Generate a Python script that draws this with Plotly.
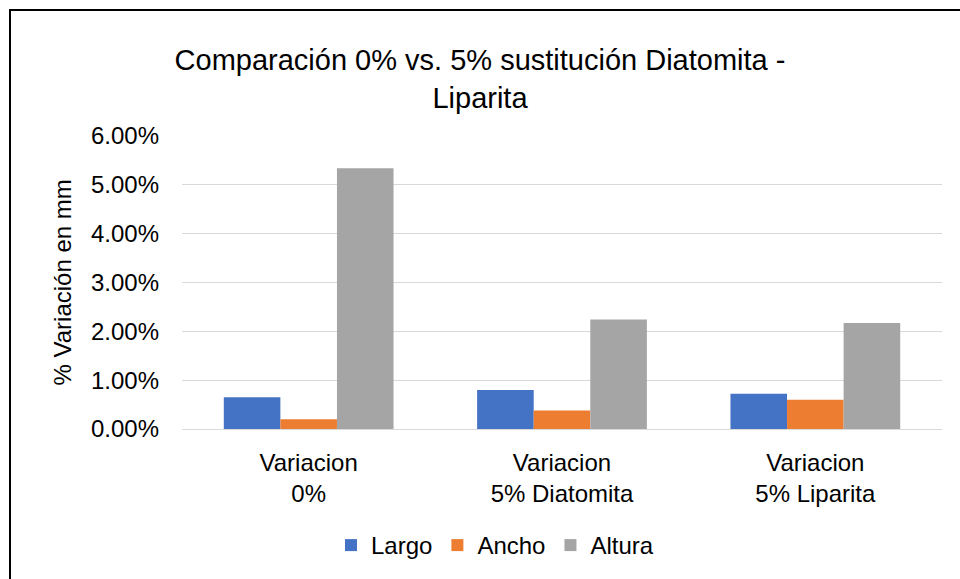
import plotly.graph_objects as go

categories = ["Variacion<br>0%", "Variacion<br>5% Diatomita", "Variacion<br>5% Liparita"]
largo = [0.0065, 0.0080, 0.0072]
ancho = [0.0020, 0.0038, 0.0060]
altura = [0.0534, 0.0224, 0.0217]

series = [("Largo", largo, "#4472C4"), ("Ancho", ancho, "#ED7D31"), ("Altura", altura, "#A5A5A5")]

fig = go.Figure()
for name, vals, color in series:
    fig.add_trace(go.Bar(x=categories, y=vals, name=name, marker_color=color, marker_line_width=0))

W, H = 960, 579
L, R, T, B = 182, 18, 136, 150
pw, ph = W - L - R, H - T - B

fig.update_layout(
    width=W, height=H,
    margin=dict(l=L, r=R, t=T, b=B, autoexpand=False),
    paper_bgcolor="white", plot_bgcolor="white",
    font=dict(family="Liberation Sans, Arial", size=24, color="#000000"),
    title=dict(text="Comparación 0% vs. 5% sustitución Diatomita -<br>Liparita",
               x=0.5, xanchor="center", y=1 - 70 / H, yanchor="top",
               font=dict(size=29)),
    barmode="group", bargap=0.33, bargroupgap=0,
    legend=dict(orientation="h", x=(495 - L) / pw, xanchor="center",
                y=-(523 - (H - B)) / ph, yanchor="top",
                font=dict(size=24), traceorder="normal"),
    showlegend=True,
)
fig.update_yaxes(range=[0, 0.06], dtick=0.01, tickformat=".2%", showgrid=True,
                 gridcolor="#D9D9D9", gridwidth=1, zeroline=False, showline=False,
                 ticks="", automargin=False, ticklabelstandoff=22)
fig.update_xaxes(showline=True, linecolor="#D9D9D9", linewidth=1, ticks="",
                 automargin=False, ticklabelstandoff=12)

# y axis title
fig.add_annotation(text="% Variación en mm", textangle=-90, showarrow=False,
                   xref="paper", yref="paper", x=(62 - L) / pw, y=0.5,
                   xanchor="center", yanchor="middle", font=dict(size=24))

# outer frame (left and top edges visible in the reference)
fig.add_shape(type="rect", xref="paper", yref="paper",
              x0=(10 - L) / pw, x1=(1000 - L) / pw,
              y0=-(620 - (H - B)) / ph, y1=((H - B) - 10) / ph,
              line=dict(color="black", width=2), fillcolor="rgba(0,0,0,0)", layer="above")

fig.write_html("out.html", config={"displayModeBar": False},
               post_script="document.body.style.margin='0';")
